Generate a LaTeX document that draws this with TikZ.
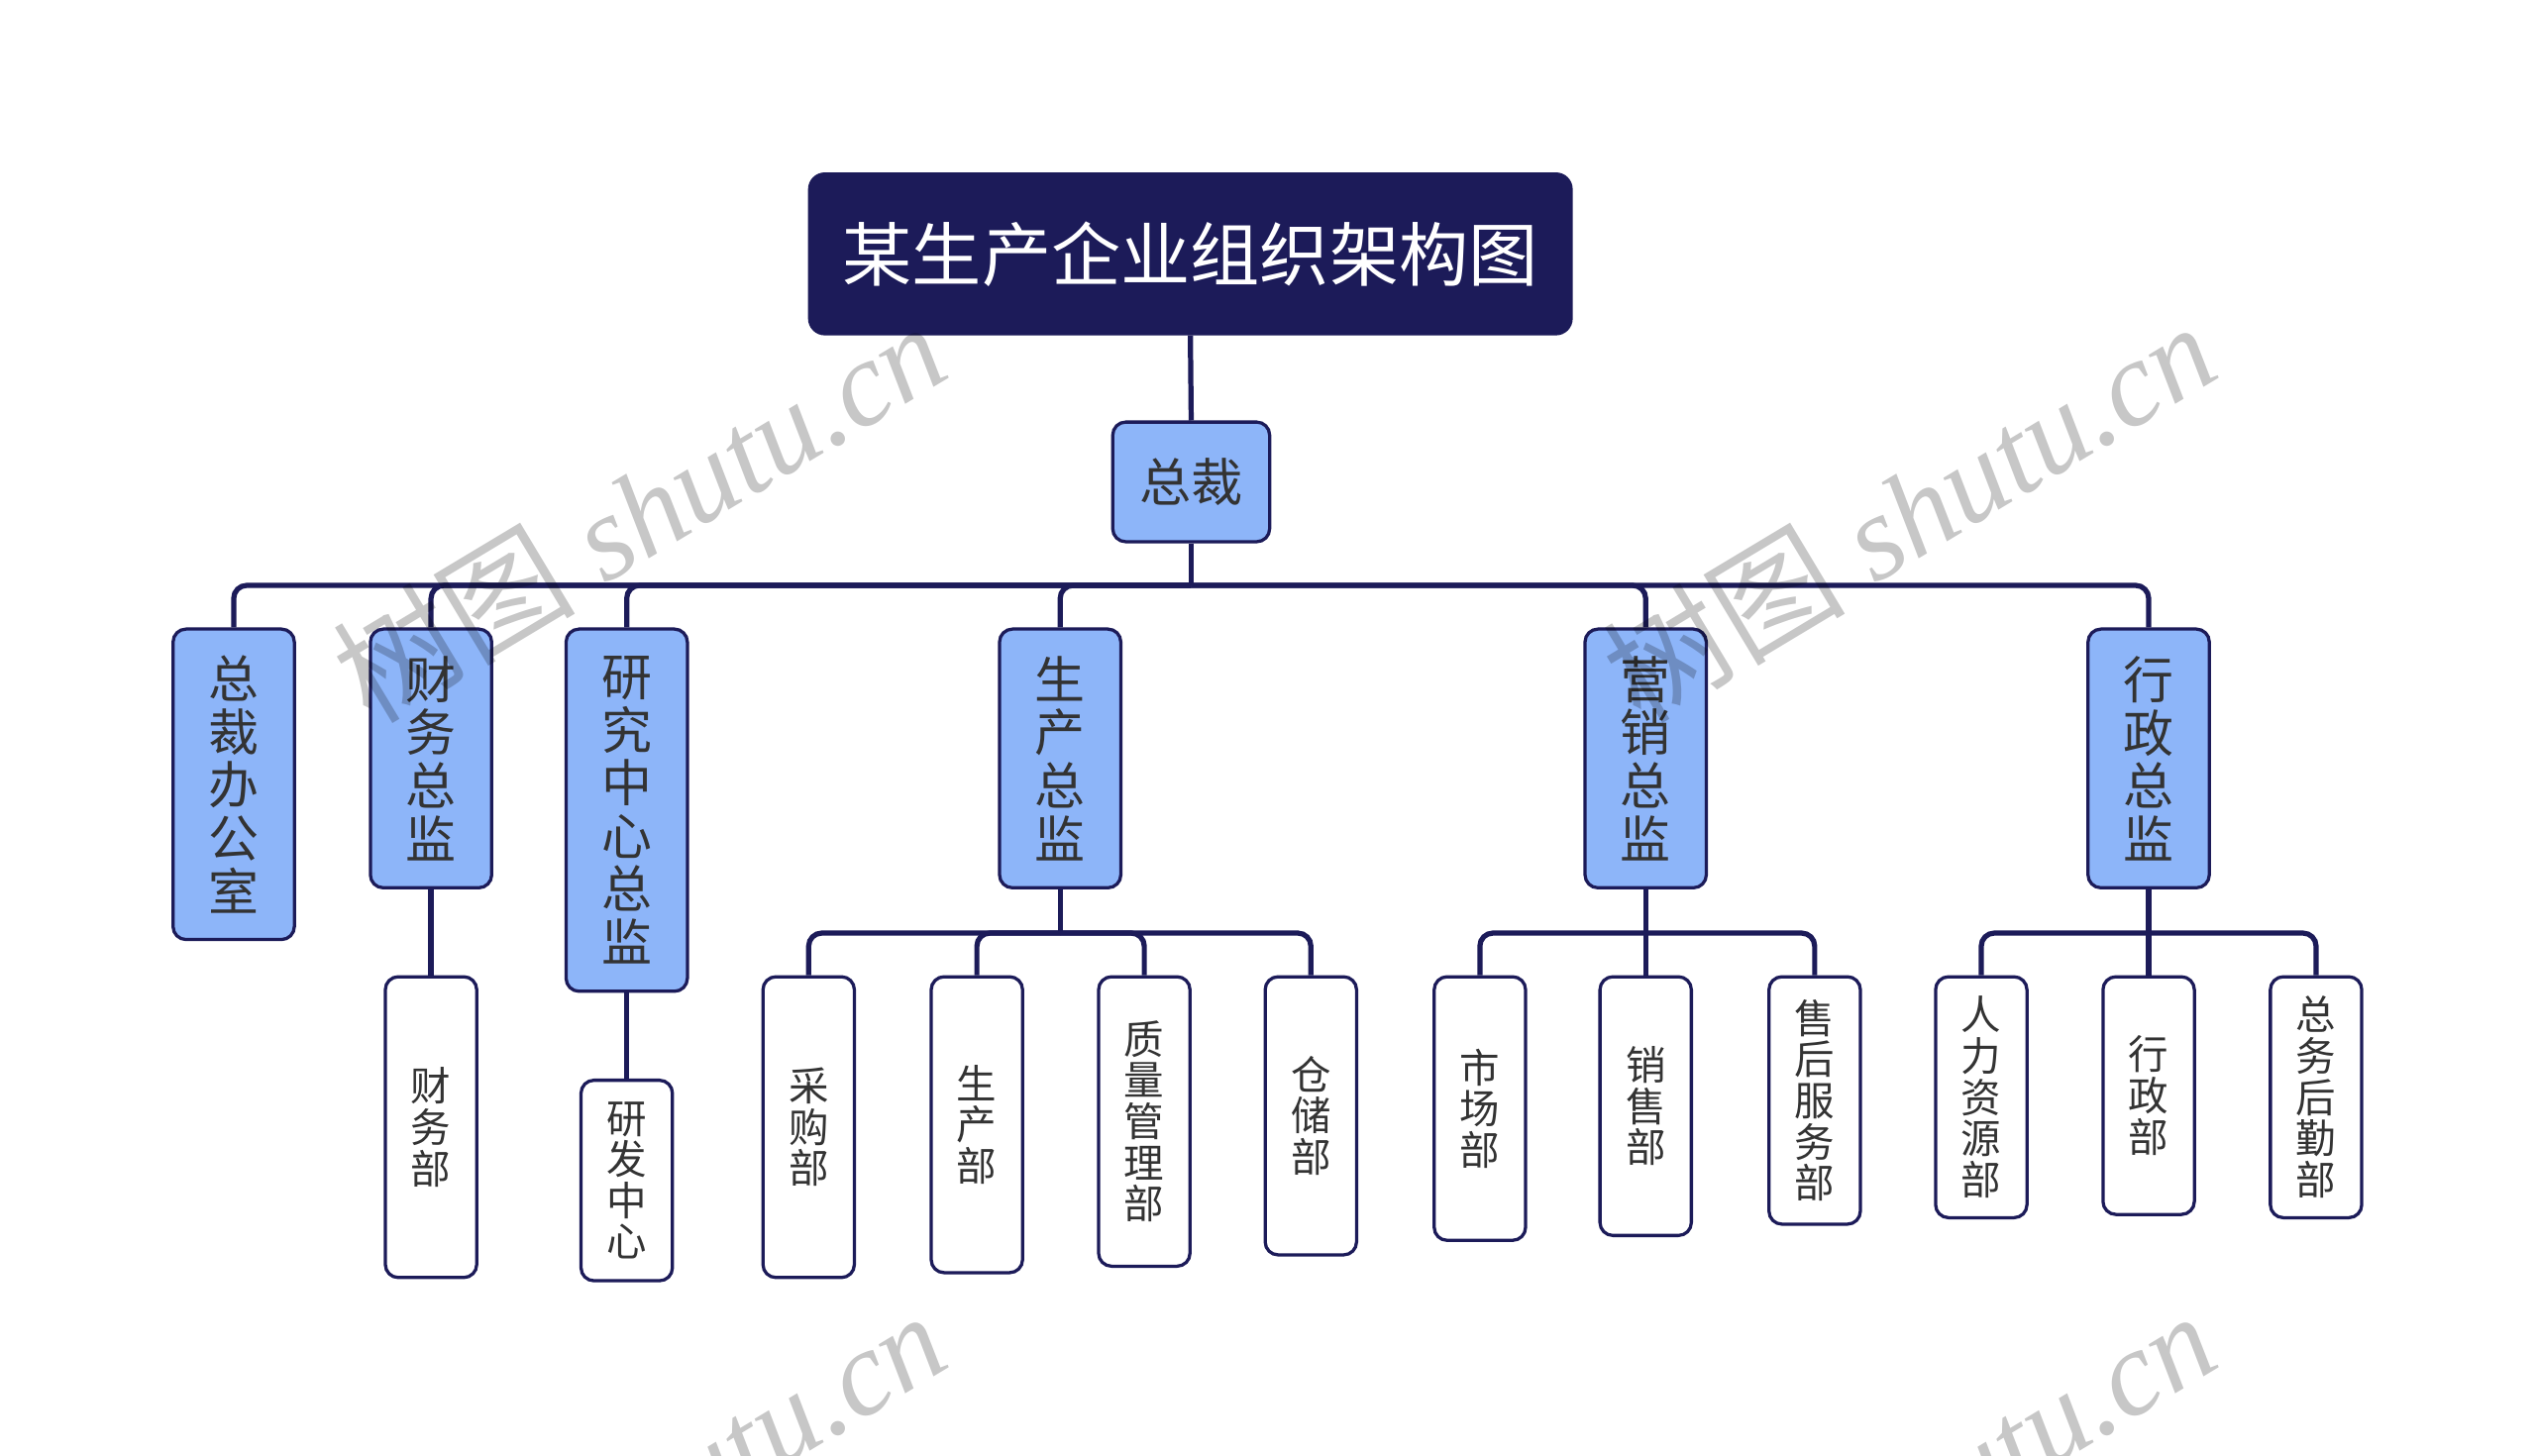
\documentclass[tikz,border=0pt]{standalone}
\usepackage{fontspec}
\setmainfont{Noto Sans CJK SC}
\newfontfamily\cjkwm{Noto Sans CJK SC}
\newfontfamily\latwm{Liberation Serif}
\usetikzlibrary{calc}
\definecolor{navy}{HTML}{1C1B59}
\definecolor{lblue}{HTML}{8DB5F9}
\definecolor{txtc}{HTML}{333333}
\tikzset{
  titlebox/.style={fill=navy, draw=navy, rounded corners=5pt, minimum width=236pt, minimum height=50pt, inner sep=0pt, text=white, font=\fontsize{21.5}{22}\selectfont},
  bluebox/.style={fill=lblue, draw=navy, line width=1pt, rounded corners=4pt, minimum width=37.5pt, inner sep=0pt, text=txtc, align=center, font=\fontsize{15.6}{16.4}\selectfont},
  whitebox/.style={fill=white, draw=navy, line width=1pt, rounded corners=4pt, minimum width=28.25pt, inner sep=0pt, text=txtc, align=center, font=\fontsize{12.4}{12.75}\selectfont},
  conn/.style={draw=navy, line width=1.6pt},
  rconn/.style={draw=navy, line width=1.6pt, rounded corners=4pt},
  wmark/.style={rotate=31, text=black, text opacity=0.22, inner sep=0pt, font=\fontsize{37.5}{38}\selectfont}
}
\begin{document}
\begin{tikzpicture}[x=0.5pt,y=-0.5pt]
\useasboundingbox (0,0) rectangle (1568,900);
\fill[white] (0,0) rectangle (1568,900);

% title and president
\node[titlebox] (title) at (736,157) {某生产企业组织架构图};
\node[bluebox, minimum width=48.5pt, minimum height=37pt, font=\fontsize{16}{16.5}\selectfont] (zc) at (736.5,298) {总裁};

% level 1
\node[bluebox, minimum height=96pt] (zcb) at (144.5,485) {总\\裁\\办\\公\\室};
\node[bluebox, minimum height=80pt] (cw) at (266.5,469) {财\\务\\总\\监};
\node[bluebox, minimum height=112pt] (yj) at (387.5,501) {研\\究\\中\\心\\总\\监};
\node[bluebox, minimum height=80pt] (sc) at (655.5,469) {生\\产\\总\\监};
\node[bluebox, minimum height=80pt] (yx) at (1017.5,469) {营\\销\\总\\监};
\node[bluebox, minimum height=80pt] (xz) at (1328.5,469) {行\\政\\总\\监};

% level 2
\node[whitebox, minimum height=93pt] (cwb) at (266.5,697) {财\\务\\部};
\node[whitebox, minimum height=62pt] (yf) at (387.5,730) {研\\发\\中\\心};
\node[whitebox, minimum height=93pt] (cg) at (500,697) {采\\购\\部};
\node[whitebox, minimum height=91.5pt] (scb) at (604,695.5) {生\\产\\部};
\node[whitebox, minimum height=89.5pt] (zl) at (707.5,693.5) {质\\量\\管\\理\\部};
\node[whitebox, minimum height=86pt] (cc) at (810.5,690) {仓\\储\\部};
\node[whitebox, minimum height=81.5pt] (scc) at (915,685.5) {市\\场\\部};
\node[whitebox, minimum height=80pt] (xs) at (1017.5,684) {销\\售\\部};
\node[whitebox, minimum height=76.5pt] (sh) at (1122,680.5) {售\\后\\服\\务\\部};
\node[whitebox, minimum height=74.5pt] (rl) at (1225,678.5) {人\\力\\资\\源\\部};
\node[whitebox, minimum height=73.5pt] (xzb) at (1328.5,677.5) {行\\政\\部};
\node[whitebox, minimum height=74.5pt] (zw) at (1432,678.5) {总\\务\\后\\勤\\部};

% connectors
\draw[conn] (title.south) -- (zc.north);
\coordinate (b0) at (736.5,362);
\draw[conn] (zc.south) -- (b0);
\foreach \c in {zcb,cw,yj,sc,yx,xz} \draw[rconn] (b0) -| (\c.north);

\draw[conn] (cw.south) -- (cwb.north);
\draw[conn] (yj.south) -- (yf.north);

\coordinate (bsc) at (655.5,577);
\draw[conn] (sc.south) -- (bsc);
\foreach \c in {cg,scb,zl,cc} \draw[rconn] (bsc) -| (\c.north);

\coordinate (byx) at (1017.5,577);
\draw[conn] (yx.south) -- (byx);
\foreach \c in {scc,xs,sh} \draw[rconn] (byx) -| (\c.north);

\coordinate (bxz) at (1328.5,577);
\draw[conn] (xz.south) -- (bxz);
\foreach \c in {rl,xzb,zw} \draw[rconn] (bxz) -| (\c.north);

% watermark
\begin{scope}
\clip (0,0) rectangle (1568,900);
\foreach \x/\y [count=\i] in {395/316, 1180/316, 395/928, 1180/928}
  \node[wmark] (wm\i) at (\x,\y) {{\cjkwm 树图}{\latwm\itshape\ shutu.cn}};
\end{scope}
\end{tikzpicture}
\end{document}
